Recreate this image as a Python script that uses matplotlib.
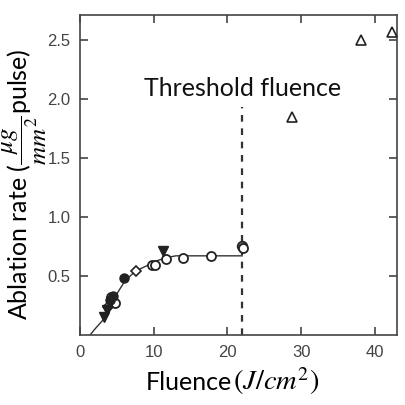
import numpy as np
import matplotlib.pyplot as plt

plt.rcParams["mathtext.fontset"] = "stix"

# fitted curve
curve_x = [1.35, 2.0, 3.0, 3.4, 4.0, 5.0, 5.9, 6.8, 7.5, 8.5, 9.5, 10.5, 11.7, 13.0, 22.0]
curve_y = [0.0, 0.05, 0.12, 0.155, 0.23, 0.35, 0.44, 0.50, 0.54, 0.57, 0.60, 0.63, 0.655, 0.67, 0.67]

open_circ_x = [4.2, 4.7, 9.7, 10.1, 11.6, 13.9, 17.8, 22.1]
open_circ_y = [0.32, 0.27, 0.59, 0.59, 0.64, 0.65, 0.665, 0.74]

fill_circ_x = [4.0, 4.4, 5.9]
fill_circ_y = [0.30, 0.33, 0.48]

gray_circ_x = [22.0]
gray_circ_y = [0.75]

open_diam_x = [3.8, 7.6]
open_diam_y = [0.24, 0.54]

down_tri_x = [3.3, 3.7, 11.2]
down_tri_y = [0.15, 0.21, 0.71]

up_tri_x = [28.8, 38.1, 42.4]
up_tri_y = [1.85, 2.50, 2.57]

threshold = 22.0

fig = plt.figure(figsize=(4.05, 4.05), dpi=100)
ax = fig.add_axes([0.198, 0.173, 0.782, 0.79])

ax.plot(curve_x, curve_y, color="#333333", linewidth=1.0, zorder=2)
ax.plot([threshold, threshold], [0, 1.93], color="#333333", linestyle=(0, (3, 3)),
        linewidth=1.6, zorder=1)

ax.plot(gray_circ_x, gray_circ_y, "o", ms=7, mfc="#777777", mec="#222222", mew=1.2, zorder=3)
ax.plot(open_circ_x, open_circ_y, "o", ms=6.5, mfc="white", mec="#222222", mew=1.3, zorder=3)
ax.plot(fill_circ_x, fill_circ_y, "o", ms=6.5, mfc="#222222", mec="#222222", zorder=4)
ax.plot(open_diam_x, open_diam_y, "D", ms=5, mfc="white", mec="#222222", mew=1.2, zorder=3)
ax.plot(down_tri_x, down_tri_y, "v", ms=7, mfc="#222222", mec="#222222", zorder=4)
ax.plot(up_tri_x, up_tri_y, "^", ms=6.5, mfc="white", mec="#222222", mew=1.2, zorder=3)

ax.text(threshold, 2.09, "Threshold fluence", ha="center", va="center",
        fontsize=18, family="Lato", color="#111111")

ax.set_xlim(0, 43)
ax.set_ylim(0, 2.71)
ax.set_xticks([0, 10, 20, 30, 40])
ax.set_yticks([0.5, 1.0, 1.5, 2.0, 2.5])
ax.tick_params(direction="in", length=6, width=1.2, top=True, right=True,
               labelsize=12, labelcolor="#444444", color="#444444", pad=7)
for lab in ax.get_xticklabels() + ax.get_yticklabels():
    lab.set_family("Liberation Sans")
for s in ax.spines.values():
    s.set_color("#444444")
    s.set_linewidth(1.2)

# axis labels: plain word + larger math part, as in the original
fig.text(146 / 405, 15 / 405, "Fluence", fontsize=18, family="Lato",
         ha="left", va="baseline")
fig.text(233 / 405, 15 / 405, r"$(J/cm^2)$", fontsize=20.5,
         ha="left", va="baseline")
fig.text(0.062, 0.545, r"Ablation rate ($\dfrac{\mu g}{mm^2}$pulse)", fontsize=18,
         family="Lato", rotation=90, ha="center", va="center")

fig.savefig("out.png", dpi=100)
